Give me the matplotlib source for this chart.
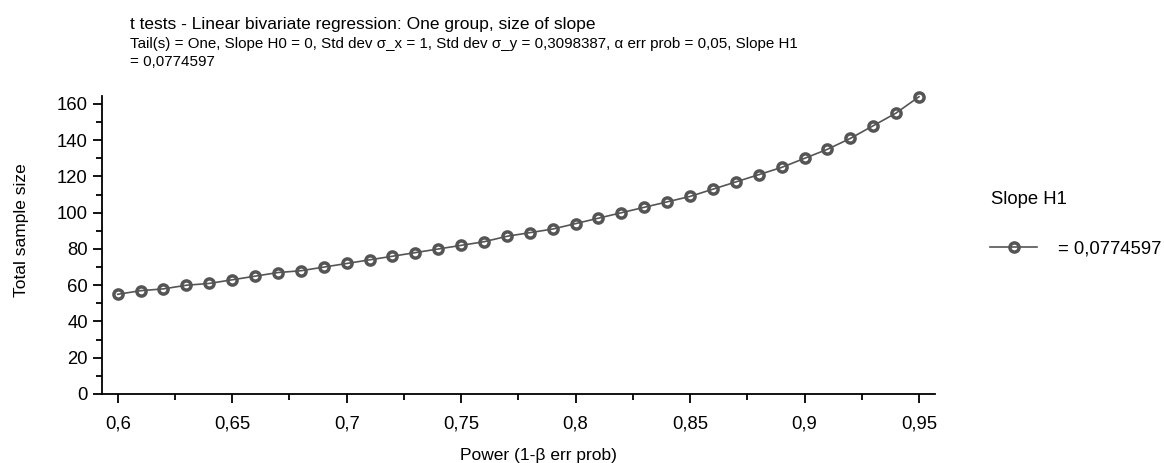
import matplotlib
matplotlib.use("Agg")
import matplotlib.pyplot as plt
from matplotlib.lines import Line2D
from matplotlib.ticker import MultipleLocator, FuncFormatter

plt.rcParams['font.family'] = ['Liberation Sans', 'DejaVu Sans']

power = [0.60, 0.61, 0.62, 0.63, 0.64, 0.65, 0.66, 0.67, 0.68, 0.69,
         0.70, 0.71, 0.72, 0.73, 0.74, 0.75, 0.76, 0.77, 0.78, 0.79,
         0.80, 0.81, 0.82, 0.83, 0.84, 0.85, 0.86, 0.87, 0.88, 0.89,
         0.90, 0.91, 0.92, 0.93, 0.94, 0.95]
sample_size = [55, 57, 58, 60, 61, 63, 65, 67, 68, 70,
               72, 74, 76, 78, 80, 82, 84, 87, 89, 91,
               94, 97, 100, 103, 106, 109, 113, 117, 121, 125,
               130, 135, 141, 148, 155, 164]

title = "t tests - Linear bivariate regression: One group, size of slope"
subtitle_1 = ("Tail(s) = One, Slope H0 = 0, Std dev \u03c3_x = 1, Std dev \u03c3_y = 0,3098387, "
              "\u03b1 err prob = 0,05, Slope H1")
subtitle_2 = "= 0,0774597"
x_label = "Power (1-\u03b2 err prob)"
y_label = "Total sample size"
legend_title = "Slope H1"
legend_label = "= 0,0774597"

W, H = 1164, 463
fig = plt.figure(figsize=(W / 100, H / 100), dpi=100)
ax = fig.add_axes([102 / W, 1 - 394 / H, (935 - 102) / W, (394 - 96) / H])

col = '#555555'
ax.plot(power, sample_size, color=col, lw=1.2, marker='o', ms=6.6,
        mfc='none', mec=col, mew=2.5, clip_on=False, zorder=3)

ax.set_xlim(0.59314, 0.95699)
ax.set_ylim(0, 164.4)
ax.xaxis.set_major_locator(MultipleLocator(0.05))
ax.xaxis.set_minor_locator(MultipleLocator(0.025))
ax.yaxis.set_major_locator(MultipleLocator(20))
ax.yaxis.set_minor_locator(MultipleLocator(10))

def fmt(v, pos):
    s = ('%.2f' % v).rstrip('0').rstrip('.')
    return s.replace('.', ',')
ax.xaxis.set_major_formatter(FuncFormatter(fmt))

for s in ['top', 'right']:
    ax.spines[s].set_visible(False)
for s in ['left', 'bottom']:
    ax.spines[s].set_linewidth(1.3)
    ax.spines[s].set_color('black')

ax.tick_params(axis='both', which='major', direction='out', length=6.6, width=1.3,
               labelsize=13.3, colors='black')
ax.tick_params(axis='both', which='minor', direction='out', length=4.2, width=1.3)
ax.tick_params(axis='x', which='major', pad=9)
ax.tick_params(axis='y', which='major', pad=3.6)

ax.set_xlabel(x_label, fontsize=12.5, va='baseline')
ax.xaxis.set_label_coords((538 - 102) / (935 - 102), -(460 - 394) / (394 - 96))
ax.set_ylabel(y_label, fontsize=12.5)
ax.yaxis.set_label_coords(-(102 - 29) / (935 - 102), (394 - 230) / (394 - 96))

fig.text(130 / W, 1 - 29 / H, title, fontsize=12.5, va='baseline', ha='left')
fig.text(130 / W, 1 - 48 / H, subtitle_1, fontsize=10.9, va='baseline', ha='left')
fig.text(130 / W, 1 - 66 / H, subtitle_2, fontsize=10.9, va='baseline', ha='left')

fig.text(991 / W, 1 - 199 / H, legend_title, fontsize=13.3, va='center', ha='left')
handle = Line2D([], [], color=col, lw=1.2, marker='o', ms=6.6, mfc='none',
                mec=col, mew=2.5)
fig.legend(handles=[handle], labels=[legend_label], loc='center left',
           bbox_to_anchor=(990 / W, 1 - 249 / H), frameon=False, fontsize=13.3,
           handlelength=2.55, handletextpad=1.15, borderaxespad=0, borderpad=0)

fig.savefig('out.png', dpi=100)
